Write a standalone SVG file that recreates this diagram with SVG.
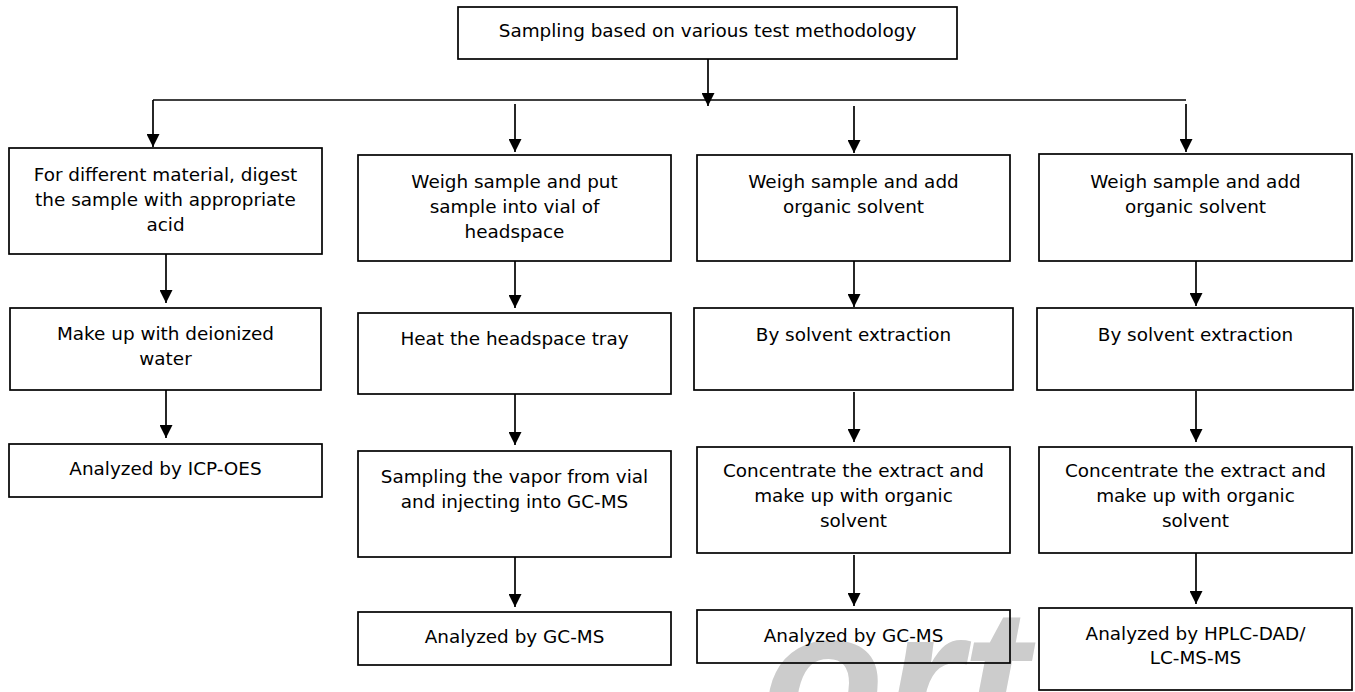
<svg xmlns="http://www.w3.org/2000/svg" width="1355" height="692" viewBox="0 0 1355 692">
<style>
.box{fill:none;stroke:#000;stroke-width:1.7}
.t{font-family:"DejaVu Sans",Verdana,sans-serif;font-size:18.4px;fill:#000;text-anchor:middle}
.c{stroke:#000;stroke-width:1.7;fill:none}
.wm{font-family:"Liberation Sans",Arial,sans-serif;font-weight:bold;font-style:italic;fill:#cccccc}
</style>
<defs>
<marker id="ah" markerUnits="userSpaceOnUse" markerWidth="13" markerHeight="13" refX="13" refY="6.5" orient="auto">
<path d="M0,0 L13,6.5 L0,13 Z" fill="#000"/>
</marker>
</defs>
<rect width="1355" height="692" fill="#fff"/>
<text class="wm" x="762" y="748" font-size="200">ort</text>
<g id="connectors">
<line class="c" x1="708" y1="59" x2="708" y2="106" marker-end="url(#ah)"/>
<line class="c" x1="153" y1="100" x2="1186" y2="100"/>
<line class="c" x1="153" y1="100" x2="153" y2="147" marker-end="url(#ah)"/>
<line class="c" x1="515" y1="104" x2="515" y2="152" marker-end="url(#ah)"/>
<line class="c" x1="854" y1="106" x2="854" y2="153" marker-end="url(#ah)"/>
<line class="c" x1="1186" y1="104" x2="1186" y2="152" marker-end="url(#ah)"/>
<line class="c" x1="166" y1="254" x2="166" y2="303" marker-end="url(#ah)"/>
<line class="c" x1="515" y1="261" x2="515" y2="308" marker-end="url(#ah)"/>
<line class="c" x1="854" y1="261" x2="854" y2="307" marker-end="url(#ah)"/>
<line class="c" x1="1196" y1="261" x2="1196" y2="306" marker-end="url(#ah)"/>
<line class="c" x1="166" y1="390" x2="166" y2="438" marker-end="url(#ah)"/>
<line class="c" x1="515" y1="394" x2="515" y2="445" marker-end="url(#ah)"/>
<line class="c" x1="854" y1="392" x2="854" y2="442" marker-end="url(#ah)"/>
<line class="c" x1="1196" y1="391" x2="1196" y2="442" marker-end="url(#ah)"/>
<line class="c" x1="515" y1="557" x2="515" y2="607" marker-end="url(#ah)"/>
<line class="c" x1="854" y1="555" x2="854" y2="606" marker-end="url(#ah)"/>
<line class="c" x1="1196" y1="553" x2="1196" y2="604" marker-end="url(#ah)"/>
</g>
<g id="n-top"><rect class="box" x="458" y="7" width="499" height="52"/><text class="t" x="707.5" y="37">Sampling based on various test methodology</text></g>
<g id="n1"><rect class="box" x="9" y="148" width="313" height="106"/><text class="t" x="165.5" y="181">For different material, digest</text><text class="t" x="165.5" y="206">the sample with appropriate</text><text class="t" x="165.5" y="231">acid</text></g>
<g id="n2"><rect class="box" x="358" y="155" width="313" height="106"/><text class="t" x="514.5" y="188">Weigh sample and put</text><text class="t" x="514.5" y="213">sample into vial of</text><text class="t" x="514.5" y="238">headspace</text></g>
<g id="n3"><rect class="box" x="697" y="155" width="313" height="106"/><text class="t" x="853.5" y="188">Weigh sample and add</text><text class="t" x="853.5" y="213">organic solvent</text></g>
<g id="n4"><rect class="box" x="1039" y="154" width="313" height="107"/><text class="t" x="1195.5" y="188">Weigh sample and add</text><text class="t" x="1195.5" y="213">organic solvent</text></g>
<g id="n1b"><rect class="box" x="10" y="308" width="311" height="82"/><text class="t" x="165.5" y="340">Make up with deionized</text><text class="t" x="165.5" y="365">water</text></g>
<g id="n2b"><rect class="box" x="358" y="313" width="313" height="81"/><text class="t" x="514.5" y="345">Heat the headspace tray</text></g>
<g id="n3b"><rect class="box" x="694" y="308" width="319" height="82"/><text class="t" x="853.5" y="341">By solvent extraction</text></g>
<g id="n4b"><rect class="box" x="1037" y="308" width="316" height="82"/><text class="t" x="1195.5" y="341">By solvent extraction</text></g>
<g id="n1c"><rect class="box" x="9" y="444" width="313" height="53"/><text class="t" x="165.5" y="475">Analyzed by ICP-OES</text></g>
<g id="n2c"><rect class="box" x="358" y="451" width="313" height="106"/><text class="t" x="514.5" y="483">Sampling the vapor from vial</text><text class="t" x="514.5" y="508">and injecting into GC-MS</text></g>
<g id="n3c"><rect class="box" x="697" y="447" width="313" height="106"/><text class="t" x="853.5" y="477">Concentrate the extract and</text><text class="t" x="853.5" y="502">make up with organic</text><text class="t" x="853.5" y="527">solvent</text></g>
<g id="n4c"><rect class="box" x="1039" y="447" width="313" height="106"/><text class="t" x="1195.5" y="477">Concentrate the extract and</text><text class="t" x="1195.5" y="502">make up with organic</text><text class="t" x="1195.5" y="527">solvent</text></g>
<g id="n2d"><rect class="box" x="358" y="612" width="313" height="53"/><text class="t" x="514.5" y="643">Analyzed by GC-MS</text></g>
<g id="n3d"><rect class="box" x="697" y="610" width="313" height="53"/><text class="t" x="853.5" y="642">Analyzed by GC-MS</text></g>
<g id="n4d"><rect class="box" x="1039" y="608" width="313" height="82"/><text class="t" x="1195.5" y="640">Analyzed by HPLC-DAD/</text><text class="t" x="1195.5" y="664">LC-MS-MS</text></g>
</svg>
